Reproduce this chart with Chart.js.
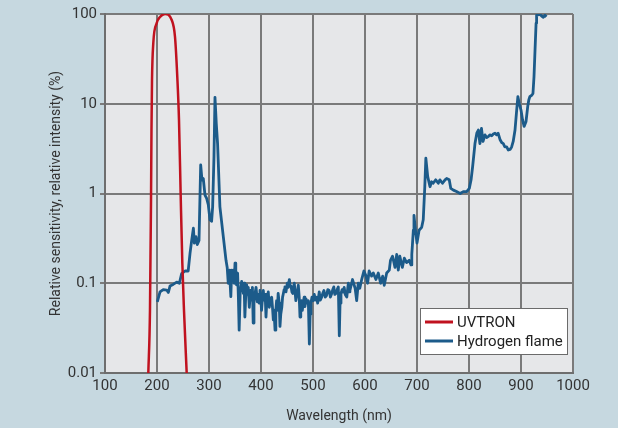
<!DOCTYPE html>
<html>
<head>
<meta charset="utf-8">
<script src="https://cdn.jsdelivr.net/npm/chart.js@4/dist/chart.umd.min.js"></script>
<style>
  html, body { margin: 0; padding: 0; background: #c6d8e0; }
  #wrap { width: 618px; height: 428px; }
</style>
</head>
<body>
<div id="wrap"><canvas id="chart" width="618" height="428"></canvas></div>
<script>
// tick labels
const xTicks = [100, 200, 300, 400, 500, 600, 700, 800, 900, 1000];
const yTicks = [0.01, 0.1, 1, 10, 100];

// UVTRON relative sensitivity (%)
const uvWavelengths = [183.3, 186.5, 188.5, 189.4, 190.4, 192.9, 199.4, 205.8, 215.4, 228.3, 234.6, 239, 242.3, 245.6, 248.7, 251.9, 257.1];
const uvValues      = [0.01, 0.05, 0.85, 5.1, 18.4, 47.6, 79, 92.6, 100, 85.7, 55.8, 20, 6.6, 0.92, 0.168, 0.05, 0.01];

// hydrogen flame relative intensity (%)
const h2Wavelengths = [
  200.6, 205.8, 212, 218.6, 221.8, 225, 231, 237.9, 243, 247.4, 253.8, 260, 263.5, 266.7, 270, 271.8, 275, 277.5, 280.8,
  284, 286.5, 289, 292.3, 295.5, 298.6, 301.9, 305, 307, 309.6, 311.5, 314, 316.5, 321, 327.5, 332.7, 335, 337,
  340, 341, 342, 343.6, 345, 347, 348.5, 350, 351.5, 353, 355, 356.5, 358, 360, 362.8, 364.5, 366, 367.5, 369, 370.5,
  372.5, 374, 375.5, 377.5, 379, 380, 382, 383.5, 385, 386.5, 388.5, 390.5, 393, 395, 396.5, 398, 399.5, 401, 403,
  404.5, 406, 408, 409.6, 411, 412, 414, 416, 418, 420.5, 422, 423.7, 425, 427, 428.5, 430, 431.5, 433, 435, 436.5,
  438, 440, 441.5, 443, 444.5, 446, 448, 450.6, 452.5, 454.5, 456, 458, 459.5, 461, 462.5, 464, 465.5, 467, 469,
  471.8, 473.5, 475, 476.5, 478, 479.5, 481, 483, 484.5, 486.5, 488.5, 491, 493, 494.5, 496, 498, 500.6, 502.5, 504.5,
  507, 509, 512, 514, 516.7, 519, 521, 523.5, 526, 528.5, 531, 533.5, 536, 538, 540, 542, 544, 546.5, 548.7, 550.6,
  552, 553.8, 556, 558, 560, 562, 565, 566.5, 568, 569.5, 571, 576, 581, 584, 587, 590,
  593.6, 598, 602, 605, 608, 612.7, 616, 621, 625.6, 630, 634, 637, 641.7, 646.7, 649, 653, 657.7, 661, 664, 667, 671.8,
  675.6, 680, 685, 688.5, 690, 693, 694.2, 697, 700, 704, 709, 712, 715, 717, 720.6, 725, 728, 731, 736, 741, 744, 749, 754,
  757, 762, 765, 770, 776, 783, 789, 795.6, 800.6, 804, 807, 811.5, 815, 818, 821, 824, 827, 830.8, 834, 837, 840, 843.6,
  846.8, 850, 853, 856, 859.6, 862.8, 866, 869, 872.5, 875.6, 879, 882, 885, 888.5, 891.7, 894, 896.7, 900, 903, 906, 909.6,
  912.9, 915, 917, 921, 923, 925, 927, 929, 930, 936.5, 939.7, 943, 946, 949
];
const h2Values = [
  0.062, 0.080, 0.085, 0.084, 0.079, 0.093, 0.097, 0.103, 0.100, 0.128, 0.137, 0.137, 0.215, 0.30, 0.41, 0.28, 0.33, 0.27, 0.30,
  2.08, 1.41, 1.47, 0.96, 0.88, 0.75, 0.51, 0.49, 0.71, 2.6, 11.8, 6, 3.6, 0.71, 0.33, 0.18, 0.15, 0.10,
  0.14, 0.09, 0.071, 0.14, 0.11, 0.14, 0.10, 0.167, 0.12, 0.096, 0.13, 0.07, 0.030, 0.08, 0.105, 0.09, 0.077, 0.10, 0.042, 0.07,
  0.096, 0.075, 0.09, 0.054, 0.07, 0.083, 0.065, 0.09, 0.036, 0.06, 0.077, 0.09, 0.062, 0.075, 0.06, 0.083, 0.07, 0.050, 0.07,
  0.083, 0.065, 0.075, 0.042, 0.06, 0.070, 0.08, 0.054, 0.065, 0.070, 0.055, 0.039, 0.05, 0.030, 0.05, 0.064, 0.05, 0.077, 0.06, 0.033,
  0.045, 0.054, 0.07, 0.077, 0.085, 0.091, 0.08, 0.10, 0.09, 0.11, 0.095, 0.091, 0.08, 0.077, 0.09, 0.10, 0.08, 0.064, 0.075,
  0.095, 0.07, 0.042, 0.055, 0.064, 0.05, 0.060, 0.07, 0.055, 0.067, 0.06, 0.064, 0.021, 0.045, 0.060, 0.07, 0.064, 0.075, 0.065,
  0.070, 0.06, 0.080, 0.065, 0.070, 0.078, 0.083, 0.07, 0.073, 0.085, 0.083, 0.07, 0.077, 0.085, 0.091, 0.075, 0.077, 0.085, 0.091, 0.026,
  0.06, 0.077, 0.085, 0.080, 0.09, 0.075, 0.070, 0.085, 0.10, 0.08, 0.083, 0.11, 0.088, 0.064, 0.10, 0.088,
  0.11, 0.137, 0.12, 0.10, 0.137, 0.12, 0.13, 0.11, 0.13, 0.10, 0.12, 0.095, 0.13, 0.14, 0.18, 0.20, 0.15, 0.21, 0.14, 0.20, 0.15,
  0.19, 0.17, 0.18, 0.16, 0.21, 0.39, 0.57, 0.39, 0.28, 0.39, 0.42, 0.51, 1.19, 2.47, 1.54, 1.19, 1.35, 1.30, 1.42, 1.30, 1.42, 1.30, 1.42,
  1.47, 1.42, 1.14, 1.09, 1.05, 1.0, 1.05, 1.05, 1.14, 1.42, 2.0, 3.6, 4.7, 5.1, 3.6, 5.3, 3.8, 4.5, 4.2, 4.3, 4.5, 4.4,
  4.6, 4.7, 4.5, 4.7, 4.0, 3.7, 3.6, 3.3, 3.3, 3.05, 3.1, 3.3, 3.8, 5.1, 8.5, 12, 10, 8.5, 6.6, 5.6, 6.3,
  9.3, 11, 12, 12.5, 13, 20, 40, 79, 97, 99, 95, 92, 97, 93
];

const seriesNames = ['UVTRON', 'Hydrogen flame'];
const fontFamily = 'Roboto, "Liberation Sans", sans-serif';

const backdrop = {
    id: 'backdrop',
    beforeDraw(chart) {
        const { ctx, chartArea: a } = chart;
        ctx.save();
        ctx.fillStyle = '#c6d8e0';
        ctx.fillRect(0, 0, chart.width, chart.height);
        ctx.fillStyle = '#e6e7e9';
        ctx.fillRect(a.left, a.top, a.right - a.left, a.bottom - a.top);
        ctx.restore();
    }
};

const boxLegend = {
    id: 'boxLegend',
    afterDatasetsDraw(chart) {
        const { ctx, chartArea: a } = chart;
        const w = 148, h = 47;
        const x = a.right - 5 - w, y = a.bottom - 18 - h;
        ctx.save();
        ctx.fillStyle = '#ffffff';
        ctx.fillRect(x, y, w, h);
        ctx.strokeStyle = '#6b6b6b';
        ctx.lineWidth = 1;
        ctx.strokeRect(x + 0.5, y + 0.5, w - 1, h - 1);
        ctx.font = '15px ' + fontFamily;
        ctx.textBaseline = 'middle';
        chart.data.datasets.forEach((ds, i) => {
            const ly = y + 14 + i * 19;
            ctx.strokeStyle = ds.borderColor;
            ctx.lineWidth = 3;
            ctx.beginPath();
            ctx.moveTo(x + 5, ly);
            ctx.lineTo(x + 33, ly);
            ctx.stroke();
            ctx.fillStyle = '#222';
            ctx.fillText(ds.label, x + 37, ly + 1);
        });
        ctx.restore();
    }
};

new Chart(document.getElementById('chart'), {
    type: 'line',
    data: {
        datasets: [{
            label: seriesNames[0],
            data: uvWavelengths.map((w, i) => ({ x: w, y: uvValues[i] })),
            borderColor: '#c0121f',
            borderWidth: 2.5,
            pointRadius: 0,
            cubicInterpolationMode: 'monotone',
            fill: false
        }, {
            label: seriesNames[1],
            data: h2Wavelengths.map((w, i) => ({ x: w, y: h2Values[i] })),
            borderColor: '#1c5b8a',
            borderWidth: 2.8,
            borderJoinStyle: 'round',
            pointRadius: 0,
            tension: 0,
            fill: false
        }]
    },
    options: {
        responsive: false,
        animation: false,
        layout: { padding: { left: 0, top: 14, right: 45, bottom: 0 } },
        plugins: { legend: { display: false }, tooltip: { enabled: false } },
        scales: {
            x: {
                type: 'linear',
                min: 100,
                max: 1000,
                afterBuildTicks: scale => { scale.ticks = xTicks.map(v => ({ value: v })); },
                afterFit: scale => { scale.height = 55; },
                ticks: {
                    color: '#333', font: { family: fontFamily, size: 15 }, padding: 4, maxRotation: 0,
                    callback: v => String(v)
                },
                grid: { color: '#7a7a7a', lineWidth: 2, drawTicks: false },
                border: { color: '#6e6e6e', width: 2 },
                title: {
                    display: true, text: 'Wavelength (nm)', color: '#333',
                    font: { family: fontFamily, size: 14 }, padding: { top: 0, bottom: 3 }
                }
            },
            y: {
                type: 'logarithmic',
                min: 0.01,
                max: 100,
                afterBuildTicks: scale => { scale.ticks = yTicks.map(v => ({ value: v })); },
                afterFit: scale => { scale.width = 105; },
                ticks: {
                    color: '#333', font: { family: fontFamily, size: 15 }, padding: 3,
                    callback: v => String(v)
                },
                grid: { color: '#7a7a7a', lineWidth: 2, tickLength: 5 },
                border: { color: '#6e6e6e', width: 2 },
                title: {
                    display: true, text: 'Relative sensitivity, relative intensity (%)', color: '#333',
                    font: { family: fontFamily, size: 14 }, padding: { top: 48, bottom: 0 }
                }
            }
        }
    },
    plugins: [backdrop, boxLegend]
});
</script>
</body>
</html>
